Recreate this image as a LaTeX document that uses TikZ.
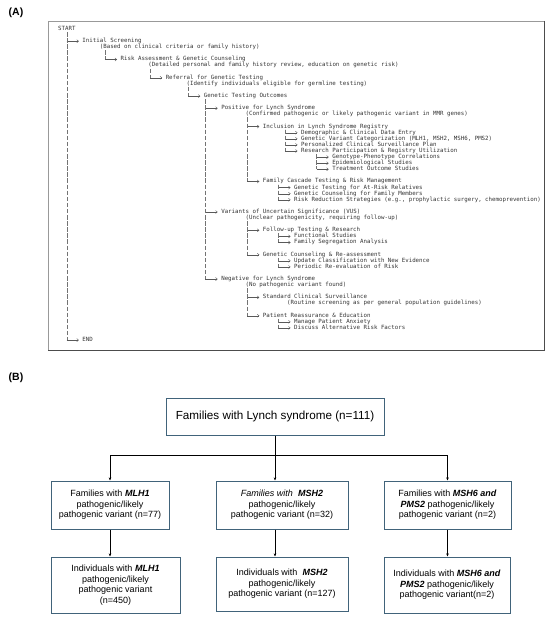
\documentclass[tikz,border=0pt]{standalone}
\usepackage{fontspec}
\setmainfont{Liberation Sans}
\newfontfamily\treefont{DejaVu Sans Mono}
\usetikzlibrary{arrows.meta}
\definecolor{boxline}{HTML}{41637A}
\tikzset{
  tline/.style={anchor=west, inner sep=0pt, text height=4bp, text depth=1.2bp, text=black!80,
    font=\treefont\fontsize{5.77bp}{6.1bp}\selectfont},
  trunk/.style={draw=black!55, line width=0.35bp, dash pattern=on 4.5bp off 1.6bp},
  twig/.style={draw=black!65, line width=0.4bp, -{Straight Barb[length=1.8bp,width=3bp]}, shorten >=3.4bp},
  box/.style={draw=boxline, line width=1bp, align=center, inner sep=2bp, font=\fontsize{9bp}{10.6bp}\selectfont},
  link/.style={line width=0.6bp, -{Stealth[length=3.2bp,width=2.6bp]}},
  panel/.style={font=\bfseries\fontsize{10.5bp}{12bp}\selectfont},
}
\newcommand{\gene}[1]{\textbf{\textit{#1}}}

\begin{document}
\begin{tikzpicture}[x=1bp, y=-1bp]
    \useasboundingbox (0,0) rectangle (550,619);
    \node[panel] (labA) at (16,13) {(A)};
    \node[panel] (labB) at (16,378) {(B)};
    \draw[black!40, line width=0.7bp] (48,21) rectangle (544,350);
    \draw[black!70, line width=1bp] (544,21) -- (544,350) -- (48,350);

    \begin{scope}[shift={(58,29)}, x=3.47bp, y=-6.1bp]
    \node[tline] (start) at (0,0) {START};
    \node[tline] (scr) at (7,2) {Initial Screening};
    \node[tline] (scrN) at (12,3) {(Based on clinical criteria or family history)};
    \node[tline] (risk) at (18,5) {Risk Assessment \& Genetic Counseling};
    \node[tline] (riskN) at (26,6) {(Detailed personal and family history review, education on genetic risk)};
    \node[tline] (ref) at (31,8) {Referral for Genetic Testing};
    \node[tline] (refN) at (37,9) {(Identify individuals eligible for germline testing)};
    \node[tline] (outc) at (42,11) {Genetic Testing Outcomes};
    \node[tline] (pos) at (47,13) {Positive for Lynch Syndrome};
    \node[tline] (posN) at (54,14) {(Confirmed pathogenic or likely pathogenic variant in MMR genes)};
    \node[tline] (reg) at (59,16) {Inclusion in Lynch Syndrome Registry};
    \node[tline] (demo) at (70,17) {Demographic \& Clinical Data Entry};
    \node[tline] (cat) at (70,18) {Genetic Variant Categorization (MLH1, MSH2, MSH6, PMS2)};
    \node[tline] (surv) at (70,19) {Personalized Clinical Surveillance Plan};
    \node[tline] (res) at (70,20) {Research Participation \& Registry Utilization};
    \node[tline] (geno) at (79,21) {Genotype-Phenotype Correlations};
    \node[tline] (epi) at (79,22) {Epidemiological Studies};
    \node[tline] (treat) at (79,23) {Treatment Outcome Studies};
    \node[tline] (fam) at (59,25) {Family Cascade Testing \& Risk Management};
    \node[tline] (rel) at (68,26) {Genetic Testing for At-Risk Relatives};
    \node[tline] (fcoun) at (68,27) {Genetic Counseling for Family Members};
    \node[tline] (rred) at (68,28) {Risk Reduction Strategies (e.g., prophylactic surgery, chemoprevention)};
    \node[tline] (vus) at (47,30) {Variants of Uncertain Significance (VUS)};
    \node[tline] (vusN) at (54,31) {(Unclear pathogenicity, requiring follow-up)};
    \node[tline] (fup) at (59,33) {Follow-up Testing \& Research};
    \node[tline] (func) at (68,34) {Functional Studies};
    \node[tline] (seg) at (68,35) {Family Segregation Analysis};
    \node[tline] (gcr) at (59,37) {Genetic Counseling \& Re-assessment};
    \node[tline] (upd) at (68,38) {Update Classification with New Evidence};
    \node[tline] (per) at (68,39) {Periodic Re-evaluation of Risk};
    \node[tline] (neg) at (47,41) {Negative for Lynch Syndrome};
    \node[tline] (negN) at (54,42) {(No pathogenic variant found)};
    \node[tline] (std) at (59,44) {Standard Clinical Surveillance};
    \node[tline] (stdN) at (66,45) {(Routine screening as per general population guidelines)};
    \node[tline] (edu) at (59,47) {Patient Reassurance \& Education};
    \node[tline] (anx) at (68,48) {Manage Patient Anxiety};
    \node[tline] (alt) at (68,49) {Discuss Alternative Risk Factors};
    \node[tline] (endn) at (7,51) {END};

    \foreach \t/\x/\y/\kids in {t0/2.5/0.5/{scr,endn}, t1/13.5/3.5/{risk}, t2/26.5/6.5/{ref},
        t3/37.5/9.5/{outc}, t4/42.5/11.5/{pos,vus,neg}, t5/54.5/14.5/{reg,fam},
        t6/65.5/16.5/{demo,cat,surv,res}, t7/74.5/20.5/{geno,epi,treat}, t8/63.5/25.5/{rel,fcoun,rred},
        t9/54.5/31.5/{fup,gcr}, t10/63.5/33.5/{func,seg}, t11/63.5/37.5/{upd,per},
        t12/54.5/42.5/{std,edu}, t13/63.5/47.5/{anx,alt}} {
      \coordinate (\t) at (\x,\y);
      \foreach \k in \kids {
        \draw[trunk] (\t) -- (\t |- \k.west);
        \draw[twig] (\t |- \k.west) -- (\k.west);
      }
    }
    \end{scope}

    \node[box, minimum width=218bp, minimum height=37bp, font=\fontsize{11.7bp}{14bp}\selectfont] (lynch) at (275,416.7)
        {Families with Lynch syndrome (n=111)};
    \node[box, minimum width=118bp, minimum height=48bp] (famA) at (110,505)
        {Families with \gene{MLH1}\\pathogenic/likely\\pathogenic variant (n=77)};
    \node[box, minimum width=132bp, minimum height=48bp] (famB) at (282,505)
        {\textit{Families with \ \textbf{MSH2}}\\pathogenic/likely\\pathogenic variant (n=32)};
    \node[box, minimum width=127bp, minimum height=48bp] (famC) at (447.5,505)
        {Families with \gene{MSH6 and}\\\gene{PMS2} pathogenic/likely\\pathogenic variant (n=2)};
    \node[box, minimum width=129bp, minimum height=56bp] (indA) at (115.5,585)
        {Individuals with \gene{MLH1}\\pathogenic/likely\\pathogenic variant\\(n=450)};
    \node[box, minimum width=132bp, minimum height=54bp] (indB) at (282,584)
        {Individuals with \ \gene{MSH2}\\pathogenic/likely\\pathogenic variant (n=127)};
    \node[box, minimum width=126bp, minimum height=56bp] (indC) at (447,585)
        {Individuals with \gene{MSH6 and}\\\gene{PMS2} pathogenic/likely\\pathogenic variant(n=2)};

    \coordinate (hub) at (275,455.7);
    \draw[line width=0.6bp] (lynch.south) -- (hub);
    \draw[link] (hub) -| (famA.north);
    \draw[link] (hub) -| (famC.north);
    \draw[link] (hub) -- (hub |- famB.north);
    \draw[link] (famA.south) -- (famA.south |- indA.north);
    \draw[link] (famB.south -| hub) -- (indB.north -| hub);
    \draw[link] (famC.south) -- (famC.south |- indC.north);
\end{tikzpicture}
\end{document}
